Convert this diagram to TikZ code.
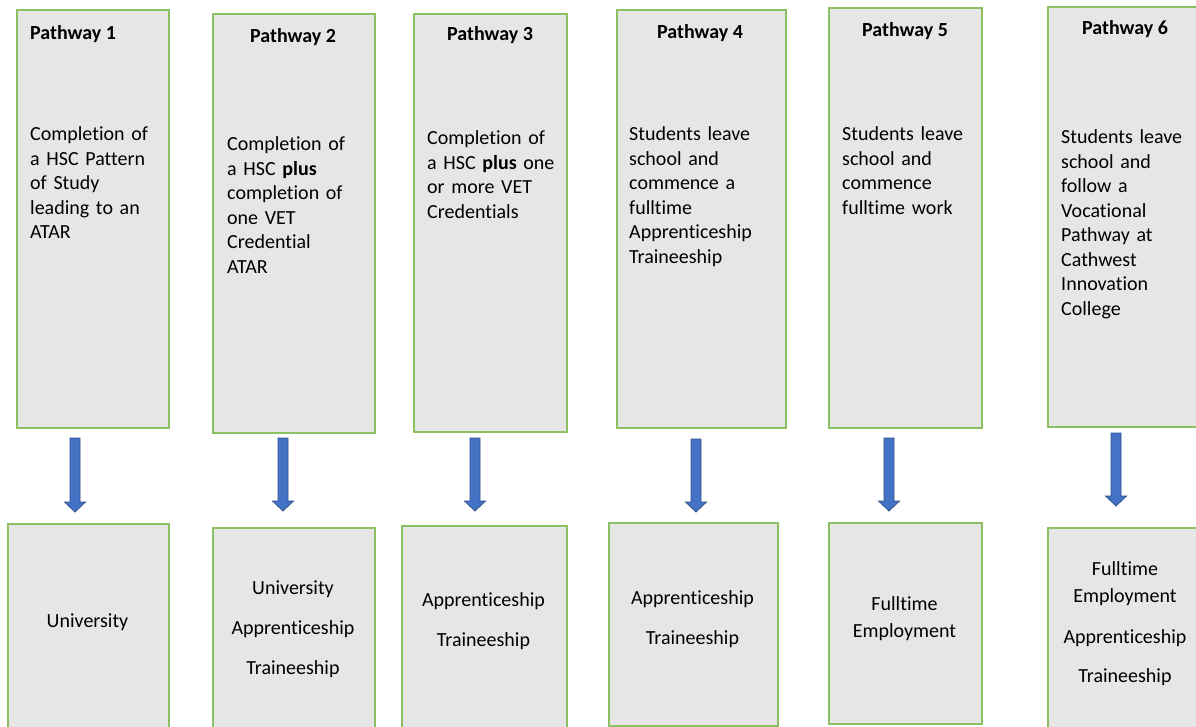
\documentclass[tikz,border=0pt]{standalone}
\usepackage{fontspec}
\setmainfont[Ligatures={NoCommon}]{Carlito}
\usetikzlibrary{calc}
\definecolor{boxgray}{HTML}{E6E6E6}
\definecolor{boxgreen}{HTML}{8DC063}
\definecolor{arrowblue}{HTML}{4472C4}
\definecolor{arrowedge}{HTML}{2F528F}
\tikzset{
    pbox/.style={rectangle, anchor=north west, inner sep=0pt,
        draw=boxgreen, line width=1.6pt, fill=boxgray},
    head/.style={font=\fontsize{20}{24.5}\selectfont\bfseries, anchor=base, inner sep=0pt},
    body/.style={font=\fontsize{20}{24.5}\selectfont, text width=150pt, align=left,
        anchor=base west, inner sep=0pt},
    result/.style={font=\fontsize{20}{27}\selectfont, text width=160pt, align=center,
        anchor=base, inner sep=0pt},
    blockarrow/.style={draw=arrowedge, fill=arrowblue, line width=0.8pt, line join=miter,
        to path={let \p1=(\tikztostart), \p2=(\tikztotarget) in
            (\x1-5pt,\y1) -- (\x1+5pt,\y1) -- (\x1+5pt,\y2+10pt) -- (\x1+10.5pt,\y2+10pt)
            -- (\x2,\y2) -- (\x1-10.5pt,\y2+10pt) -- (\x1-5pt,\y2+10pt) -- cycle}}
}

\begin{document}
\begin{tikzpicture}[x=1pt, y=-1pt]
    \useasboundingbox (0,0) rectangle (1196,727);
    \fill[white] (0,0) rectangle (1196,727);
    \clip (0,0) rectangle (1196,727);

    % pathways
    \node[pbox, minimum width=152, minimum height=418] (t1) at (16,9) {};
    \node[pbox, minimum width=162, minimum height=419] (t2) at (212,13) {};
    \node[pbox, minimum width=153, minimum height=418] (t3) at (413,13) {};
    \node[pbox, minimum width=169, minimum height=418] (t4) at (616,9) {};
    \node[pbox, minimum width=153, minimum height=420] (t5) at (828,7) {};
    \node[pbox, minimum width=156, minimum height=420] (t6) at (1047,6) {};

    \node[head, anchor=base west] (h1) at (30,40) {Pathway 1};
    \node[head] (h2) at (293,43) {Pathway 2};
    \node[head] (h3) at (490,41) {Pathway 3};
    \node[head] (h4) at (700,39) {Pathway 4};
    \node[head] (h5) at (905,37) {Pathway 5};
    \node[head] (h6) at (1125,35) {Pathway 6};

    \node[body] (d1) at (30,141) {Completion of\\ a HSC Pattern\\ of Study\\ leading to an\\ ATAR};
    \node[body] (d2) at (227,151) {Completion of\\ a HSC \textbf{plus}\\ completion of\\ one VET\\ Credential\\ ATAR};
    \node[body] (d3) at (427,145) {Completion of\\ a HSC \textbf{plus} one\\ or more VET\\ Credentials};
    \node[body] (d4) at (629,141) {Students leave\\ school and\\ commence a\\ fulltime\\ Apprenticeship\\ Traineeship};
    \node[body] (d5) at (842,141) {Students leave\\ school and\\ commence\\ fulltime work};
    \node[body] (d6) at (1061,144) {Students leave\\ school and\\ follow a\\ Vocational\\ Pathway at\\ Cathwest\\ Innovation\\ College};

    % outcomes
    \node[pbox, minimum width=161, minimum height=210] (b1) at (7,523) {};
    \node[pbox, minimum width=162, minimum height=210] (b2) at (212,527) {};
    \node[pbox, minimum width=165, minimum height=210] (b3) at (401,525) {};
    \node[pbox, minimum width=169, minimum height=203] (b4) at (608,522) {};
    \node[pbox, minimum width=153, minimum height=201] (b5) at (828,522) {};
    \node[pbox, minimum width=156, minimum height=210] (b6) at (1047,527) {};

    \node[result] (r1) at (87.5,627) {University};
    \node[result] (r2) at (293,594) {University\\[13pt] Apprenticeship\\[13pt] Traineeship};
    \node[result] (r3) at (483.5,606) {Apprenticeship\\[13pt] Traineeship};
    \node[result] (r4) at (692.5,604) {Apprenticeship\\[13pt] Traineeship};
    \node[result] (r5) at (904.5,610) {Fulltime\\ Employment};
    \node[result] (r6) at (1125,575) {Fulltime\\ Employment\\[14pt] Apprenticeship\\[12pt] Traineeship};

    % arrows
    \coordinate (s1) at (75,438);   \coordinate (e1) at (75,512);
    \coordinate (s2) at (283,438);  \coordinate (e2) at (283,511);
    \coordinate (s3) at (475,438);  \coordinate (e3) at (475,511);
    \coordinate (s4) at (696,439);  \coordinate (e4) at (696,512);
    \coordinate (s5) at (889,438);  \coordinate (e5) at (889,511);
    \coordinate (s6) at (1116,433); \coordinate (e6) at (1116,506);
    \path (s1) [blockarrow] to (e1)
        (s2) [blockarrow] to (e2)
        (s3) [blockarrow] to (e3)
        (s4) [blockarrow] to (e4)
        (s5) [blockarrow] to (e5)
        (s6) [blockarrow] to (e6);
\end{tikzpicture}
\end{document}
